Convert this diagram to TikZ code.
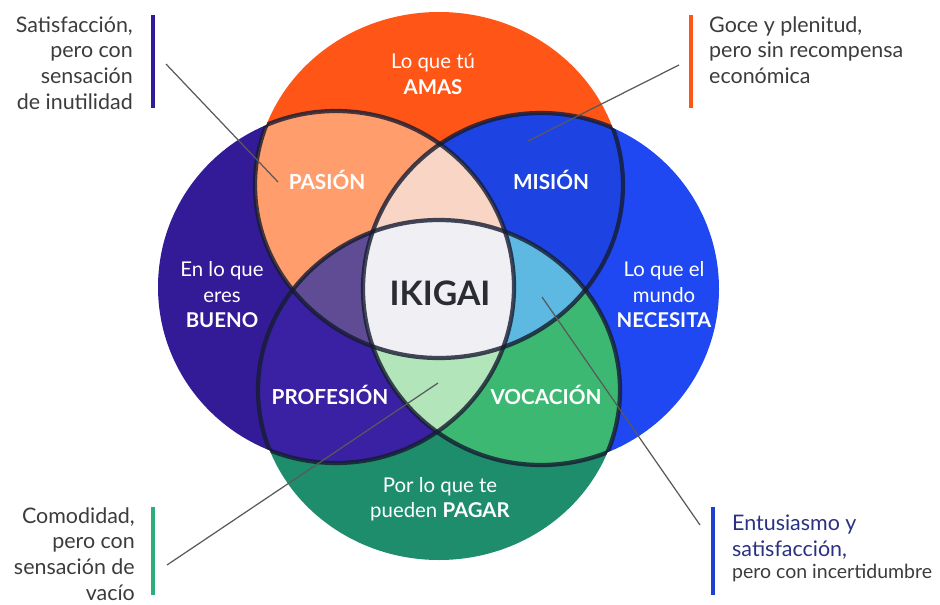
\documentclass[tikz,border=0pt]{standalone}
\usepackage{fontspec}
\setmainfont{Lato}
\usetikzlibrary{positioning}

\definecolor{amaC}{HTML}{FF5517}
\definecolor{buenoC}{HTML}{331B98}
\definecolor{necC}{HTML}{1F48F2}
\definecolor{pagarC}{HTML}{1E8D6C}
\definecolor{pasionC}{HTML}{FF9E6C}
\definecolor{misionC}{HTML}{1D44E3}
\definecolor{profC}{HTML}{3A20A3}
\definecolor{vocC}{HTML}{3DB873}
\definecolor{topC}{HTML}{F9D5C5}
\definecolor{leftC}{HTML}{5F4C95}
\definecolor{rightC}{HTML}{5DB8E2}
\definecolor{botC}{HTML}{B3E5BB}
\definecolor{centroC}{HTML}{EFEFF4}
\definecolor{ringC}{HTML}{161B30}
\definecolor{ikiC}{HTML}{2B2B33}
\definecolor{notaC}{HTML}{3C3C3C}
\definecolor{entuC}{HTML}{2A3183}
\definecolor{barG}{HTML}{2EAD7A}
\definecolor{barB}{HTML}{1E3FD0}

\begin{document}
\begin{tikzpicture}[x=0.02cm,y=-0.02cm]
\tikzstyle{lbl}=[text=white, align=center, font=\fontsize{11.6}{14.5}\selectfont]
\tikzstyle{zona}=[text=white, font=\fontsize{11.8}{14}\selectfont\bfseries]
\tikzstyle{nota}=[text=notaC, font=\fontsize{12.2}{14.6}\selectfont]
\tikzstyle{ring}=[draw=ringC, line width=2.4pt, draw opacity=.8]
\tikzstyle{leader}=[draw=black!65, line width=.7pt]
\tikzstyle{bar}=[line width=2.3pt]
\useasboundingbox (0,0) rectangle (940,605);
\def\cA{(439,185) ellipse [x radius=184, y radius=173]}
\def\cB{(336,287) ellipse [x radius=178, y radius=176]}
\def\cN{(541,289) ellipse [x radius=178, y radius=176]}
\def\cP{(439,390) ellipse [x radius=181, y radius=170]}
%circles
\foreach \ra/\k in {\cA/amaC,\cB/buenoC,\cN/necC,\cP/pagarC}{\fill[\k] \ra;}
%pairs
\foreach \ra/\rb/\k in {\cA/\cB/pasionC,\cA/\cN/misionC,\cB/\cP/profC,\cN/\cP/vocC}{
  \begin{scope} \clip \ra; \fill[\k] \rb; \end{scope}}
%triples
\foreach \ra/\rb/\rc/\k in {\cA/\cB/\cN/topC,\cA/\cB/\cP/leftC,\cA/\cN/\cP/rightC,\cB/\cN/\cP/botC}{
  \begin{scope} \clip \ra; \clip \rb; \fill[\k] \rc; \end{scope}}
\begin{scope} \clip \cA; \clip \cB; \clip \cN; \fill[centroC] \cP; \end{scope}
%outlines inside the other circles
\foreach \ra/\rb/\rc/\rd in {\cA/\cB/\cN/\cP,\cB/\cA/\cN/\cP,\cN/\cA/\cB/\cP,\cP/\cA/\cB/\cN}{
  \begin{scope} \clip \rb \rc \rd; \draw[ring] \ra; \end{scope}}

\node[lbl] (amas) at (433,74) {Lo que tú\\\textbf{AMAS}};
\node[zona] (pasion) at (327,180) {PASIÓN};
\node[zona] (mision) at (551,180) {MISIÓN};
\node[lbl] (bueno) at (222,295) {En lo que\\eres\\\textbf{BUENO}};
\node[lbl] (necesita) at (664,295) {Lo que el\\mundo\\\textbf{NECESITA}};
\node[text=ikiC, font=\fontsize{19.2}{21}\selectfont\bfseries] (ikigai) at (440,293) {IKIGAI};
\node[zona] (profesion) at (330,395) {PROFESIÓN};
\node[zona] (vocacion) at (546,395) {VOCACIÓN};
\node[lbl] (pagar) at (440,499) {Por lo que te\\pueden \textbf{PAGAR}};

%notes
\node[nota, align=right, anchor=east] (inutil) at (139,63) {Satisfacción,\\pero con\\sensación\\de inutilidad};
\node[nota, align=left, anchor=west] (goce) at (703,50) {Goce y plenitud,\\pero sin recompensa\\económica};
\node[nota, align=right, anchor=east] (vacio) at (141,554) {Comodidad,\\pero con\\sensación de\\vacío};
\node[nota, align=left, anchor=west, text=entuC] (entu) at (726,537) {Entusiasmo y\\satisfacción,};
\node[nota, anchor=north west, font=\fontsize{11.1}{13}\selectfont, inner sep=0pt] (incert) at ([xshift=3.3pt,yshift=1pt]entu.south west) {pero con incertidumbre};

\draw[bar, buenoC] (153,15) -- (153,108);
\draw[bar, amaC] (691,15) -- (691,108);
\draw[bar, barG] (153,507) -- (153,595);
\draw[bar, barB] (713,507) -- (713,595);

\coordinate (pA) at (166,64);   \coordinate (qA) at (278,182);
\coordinate (pB) at (679,65);   \coordinate (qB) at (528,141);
\coordinate (pC) at (167,565);  \coordinate (qC) at (438,383);
\coordinate (pD) at (700,525);  \coordinate (qD) at (542,297);
\foreach \i/\j in {pA/qA,pB/qB,pC/qC,pD/qD}{\draw[leader] (\i) -- (\j);}
\end{tikzpicture}
\end{document}
